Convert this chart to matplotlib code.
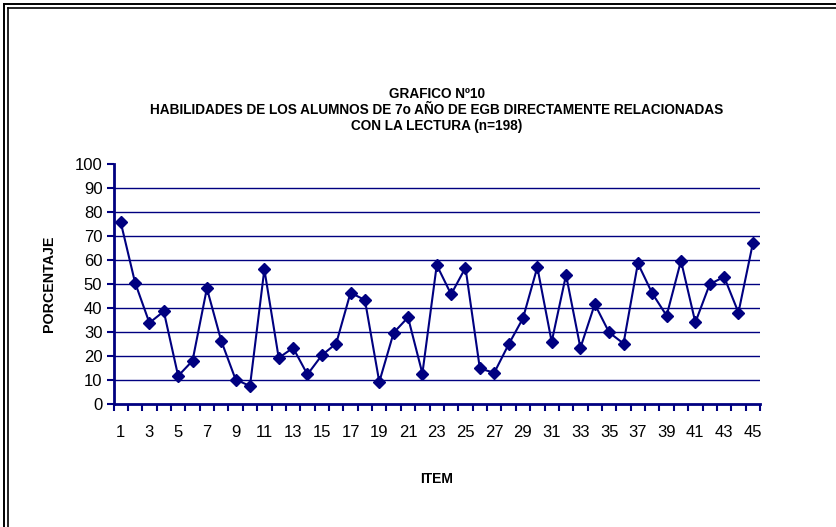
import numpy as np
import matplotlib.pyplot as plt
from matplotlib.lines import Line2D

plt.rcParams['font.family'] = ['Liberation Sans', 'DejaVu Sans']

items = list(range(1, 46))
porcentaje = [75.8, 50.6, 33.8, 38.6, 11.7, 18.0, 48.2, 26.3, 10.2, 7.5,
              56.1, 19.2, 23.4, 12.3, 20.3, 25.2, 46.4, 43.3, 9.2, 29.7,
              36.1, 12.7, 57.9, 45.7, 56.8, 14.8, 13.0, 24.8, 35.7, 57.0,
              25.9, 53.8, 23.4, 41.6, 29.8, 25.2, 58.6, 46.1, 36.8, 59.7,
              34.0, 49.9, 53.0, 38.1, 66.9]
titulo = "GRAFICO Nº10\nHABILIDADES DE LOS ALUMNOS DE 7o AÑO DE EGB DIRECTAMENTE RELACIONADAS\nCON LA LECTURA (n=198)"

navy = '#000080'
W, H = 836, 527
fig = plt.figure(figsize=(W / 100, H / 100), dpi=100)

# double frame (only left and top edges are visible in the crop)
for off, lw in [(4, 1.4), (8, 1.2)]:
    fig.add_artist(Line2D([off / W, 1.2], [1 - off / H, 1 - off / H], color='black', lw=lw,
                          transform=fig.transFigure))
    fig.add_artist(Line2D([off / W, off / W], [1 - off / H, -0.2], color='black', lw=lw,
                          transform=fig.transFigure))

ax = fig.add_axes([113.5 / W, 1 - 404 / H, (760 - 113.5) / W, (404 - 164) / H])
ax.plot(items, porcentaje, color=navy, lw=1.5, marker='D', markersize=6.5,
        markerfacecolor=navy, markeredgecolor=navy, clip_on=False, zorder=3)

ax.set_xlim(0.5, 45.5)
ax.set_ylim(0, 100)
ax.set_yticks(np.arange(0, 101, 10))
for v in range(10, 100, 10):
    ax.axhline(v, color=navy, lw=1.0, zorder=1)

ax.set_xticks(np.arange(0.5, 46, 1))
ax.set_xticklabels([])
ax.set_xticks(items[::2], minor=True)
ax.set_xticklabels([str(i) for i in items[::2]], minor=True)
ax.tick_params(axis='x', which='major', direction='out', length=5, width=1.5, color=navy)
ax.tick_params(axis='x', which='minor', length=0, pad=15, labelsize=12)
ax.tick_params(axis='y', direction='out', length=5, width=1.5, color=navy, pad=3, labelsize=12)

for s in ['top', 'right']:
    ax.spines[s].set_visible(False)
for s in ['left', 'bottom']:
    ax.spines[s].set_color(navy)
    ax.spines[s].set_linewidth(2)

fig.text(437 / W, 1 - 110 / H, titulo, ha='center', va='center', fontsize=9.8,
         fontweight='bold', linespacing=1.2)
fig.text(49 / W, 1 - 284 / H, 'PORCENTAJE', rotation=90, ha='center', va='center',
         fontsize=10.3, fontweight='bold')
fig.text(437 / W, 1 - 479 / H, 'ITEM', ha='center', va='center', fontsize=10,
         fontweight='bold')

fig.savefig('out.png', dpi=100)
